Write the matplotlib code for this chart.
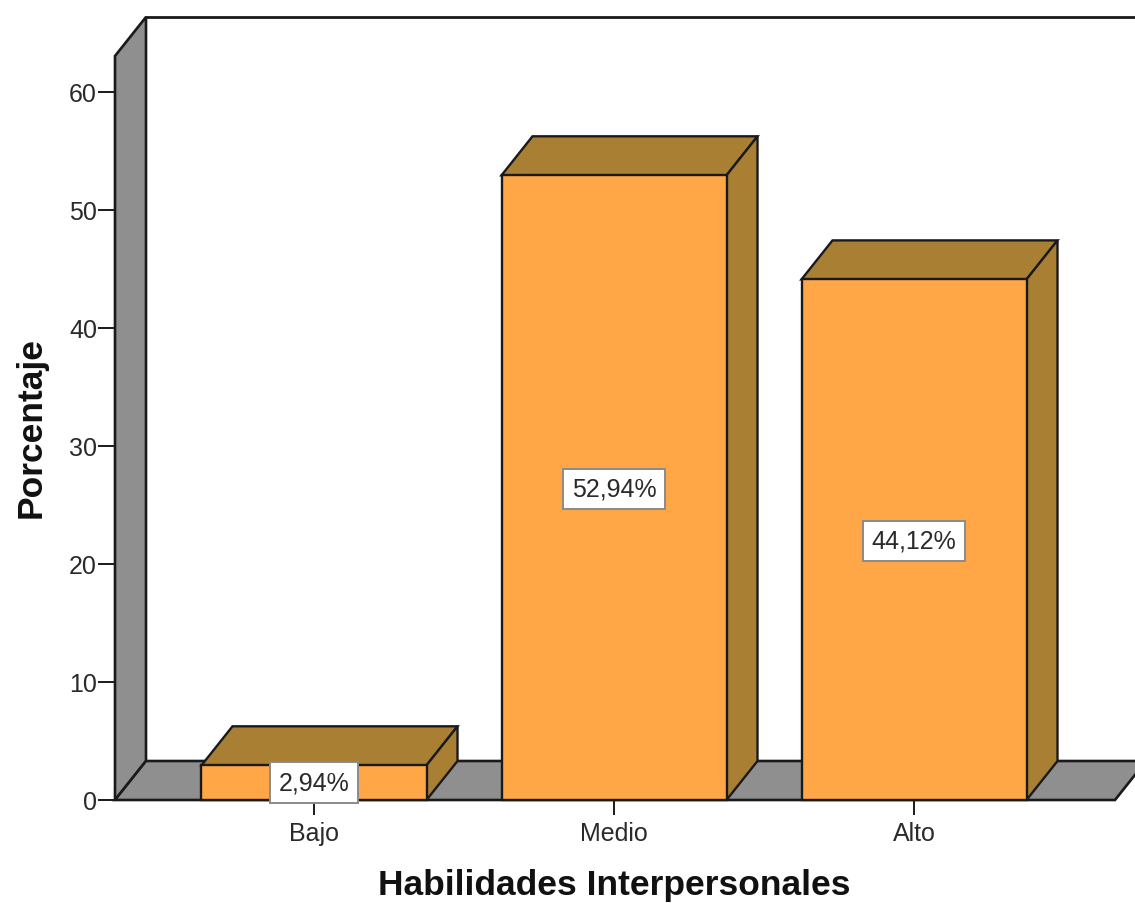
import matplotlib
matplotlib.use('Agg')
import matplotlib.pyplot as plt
from matplotlib.patches import Polygon

categories = ['Bajo', 'Medio', 'Alto']
values = [2.94, 52.94, 44.12]
labels = ['2,94%', '52,94%', '44,12%']
yticks = [0, 10, 20, 30, 40, 50, 60]

W, H = 1135, 904
x0, x1 = 115, 1115
y0, ytop = 801, 57
px_per_x = 300    # pixels between two categories
px_per_y = 11.8   # pixels for one percent
xmin = -(314 - x0) / px_per_x
xmax = xmin + (x1 - x0) / px_per_x
ymax = (y0 - ytop) / px_per_y
ddx = 31 / px_per_x   # depth of the 3d effect
ddy = 39 / px_per_y
bar_w = 0.75

line = '#1a1a1a'
grey = '#8f8f8f'
side = '#a97f33'
face = '#ffa646'
txt = '#2a2a2a'

plt.rcParams['font.family'] = ['Liberation Sans', 'DejaVu Sans']
fig = plt.figure(figsize=(W / 100, H / 100), dpi=100)
ax = fig.add_axes([x0 / W, 1 - y0 / H, (x1 - x0) / W, (y0 - ytop) / H])
ax.set_xlim(xmin, xmax)
ax.set_ylim(0, ymax)
ax.patch.set_visible(False)
for s in ['top', 'right', 'left', 'bottom']:
    ax.spines[s].set_visible(False)

# left wall, floor and the top line of the back wall
ax.add_patch(Polygon([(xmin, 0), (xmin, ymax), (xmin + ddx, ymax + ddy), (xmin + ddx, ddy)],
                     closed=True, fc=grey, ec=line, lw=1.9, clip_on=False))
ax.add_patch(Polygon([(xmin, 0), (xmax, 0), (xmax + ddx, ddy), (xmin + ddx, ddy)],
                     closed=True, fc=grey, ec=line, lw=1.9, clip_on=False))
ax.plot([xmin + ddx, xmax + ddx], [ymax + ddy] * 2, color=line, lw=2, clip_on=False)

for i, v in enumerate(values):
    l, r = i - bar_w / 2, i + bar_w / 2
    ax.add_patch(Polygon([(l, v), (r, v), (r + ddx, v + ddy), (l + ddx, v + ddy)], closed=True,
                         fc=side, ec=line, lw=1.7, zorder=3, clip_on=False))
    ax.add_patch(Polygon([(r, 0), (r, v), (r + ddx, v + ddy), (r + ddx, ddy)], closed=True,
                         fc=side, ec=line, lw=1.7, zorder=3, clip_on=False))
ax.bar(range(3), values, width=bar_w, color=face, edgecolor=line, linewidth=1.7, zorder=4, clip_on=False)

for i, v in enumerate(values):
    ax.text(i, max(v / 2, 1.6) - 0.1, labels[i], ha='center', va='center', fontsize=18, color=txt, zorder=6,
            bbox=dict(boxstyle='square,pad=0.33', fc='white', ec='#8a8a8a', lw=1.4))

ax.set_xticks(range(3))
ax.set_xticklabels(categories, fontsize=18, color=txt)
ax.set_yticks(yticks)
ax.set_yticklabels([str(t) for t in yticks], fontsize=18, color=txt)
ax.tick_params(axis='x', length=11, width=1.4, color=line, pad=4)
ax.tick_params(axis='y', length=12, width=1.4, color=line, pad=1)

fig.text(614 / W, 1 - 886 / H, 'Habilidades Interpersonales', ha='center', va='center',
         fontsize=25.5, fontweight='bold', color='#111111')
fig.text(31 / W, 1 - 428 / H, 'Porcentaje', ha='center', va='center', rotation=90,
         fontsize=25.5, fontweight='bold', color='#111111')

fig.savefig('out.png', dpi=100)
